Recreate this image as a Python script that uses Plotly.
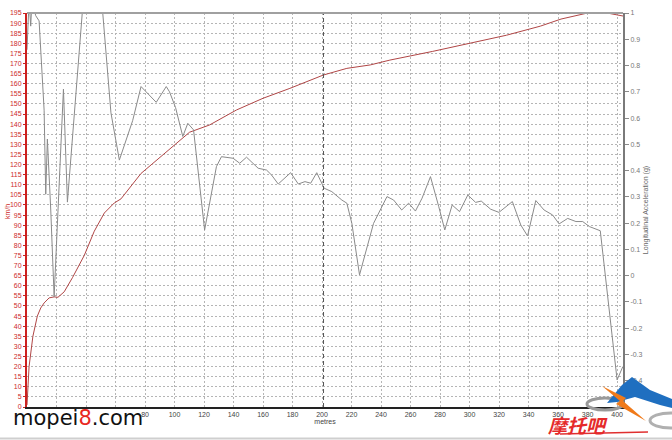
import plotly.graph_objects as go

# ---------------- data ----------------
dist_speed = [0, 1.4, 4, 7, 9.3, 11.6, 15, 18.4, 21, 25.2, 30.8, 38.8, 45.6, 50, 52.4,
              59.2, 63.7, 77.3, 100, 110.2, 123.8, 142, 160, 178.2, 200.9, 216.8, 232.7,
              246, 275, 300, 325, 348, 362, 380, 391, 404]
speed_kmh = [1, 20, 35, 45, 49, 51.5, 54, 54.5, 54.3, 57, 64, 75, 87, 92.5, 96,
             101, 103, 115.6, 129.7, 136, 139.6, 147, 152.8, 157.7, 164.3, 167.6, 169.3,
             171.7, 176, 180, 184, 188.5, 192, 195, 195.3, 193.5]

dist_accel = [0, 1.4, 2.5, 3.4, 5.9, 8.2, 11.6, 12.7, 13.8, 16.1, 18.4, 24.7, 27.4, 37.6,
              44, 51.2, 56.9, 62.6, 71.6, 77.3, 87.6, 94.4, 96.6, 100.7, 105.6, 109, 112.9,
              120.4, 128.4, 131.8, 139.7, 144.2, 148.8, 156.7, 162.4, 165.8, 170.3, 178.7,
              183.9, 188.4, 192.3, 196.4, 201.4, 206.6, 213.4, 216.8, 220.2, 225.4, 234.9,
              244, 248.5, 254, 258.7, 263.3, 267.8, 273.5, 279.1, 283.2, 288.2, 293.2,
              298.8, 304.1, 307.9, 314.3, 319.9, 329, 334.7, 339.3, 344.9, 350.5, 356.3,
              360.7, 366.5, 372.1, 376.7, 381.2, 388.6, 400, 403.9]
accel_g = [0.86, 1.05, 0.95, 1.05, 0.99, 0.97, 0.63, 0.31, 0.52, 0.25, -0.08, 0.71, 0.28, 1.01,
           1.2, 1.01, 0.62, 0.44, 0.59, 0.72, 0.66, 0.72, 0.70, 0.64, 0.53, 0.58, 0.555,
           0.174, 0.415, 0.453, 0.447, 0.428, 0.451, 0.409, 0.402, 0.383, 0.349, 0.392,
           0.349, 0.358, 0.352, 0.392, 0.333, 0.320, 0.288, 0.276, 0.199, 0.003, 0.199,
           0.301, 0.288, 0.25, 0.276, 0.246, 0.295, 0.377, 0.263, 0.174, 0.269, 0.244,
           0.307, 0.279, 0.284, 0.253, 0.241, 0.282, 0.193, 0.151, 0.286, 0.250, 0.231,
           0.197, 0.218, 0.206, 0.206, 0.187, 0.171, -0.397, -0.346]

x_ticks = list(range(0, 401, 20))
# the first labels are hidden under the watermark in the original
x_labels = ["" if v < 80 else str(v) for v in x_ticks]
acc_ticks = [-0.4, -0.3, -0.2, -0.1, 0, 0.1, 0.2, 0.3, 0.4, 0.5, 0.6, 0.7, 0.8, 0.9, 1.0]
acc_labels = ["-0.4", "-0.3", "-0.2", "-0.1", "0", "0.1", "0.2", "0.3", "0.4", "0.5",
              "0.6", "0.7", "0.8", "0.9", "1"]
cursor_m = 201

# ---------------- layout helpers (pixel -> paper) ----------------
W, H = 672, 440
L, R, T, B = 27, 49, 13, 33
PW, PH = W - L - R, H - T - B


def px(x):
    return (x - L) / PW


def py(y):
    return (H - B - y) / PH


def path(points):
    pts = ["%s %f,%f" % ("M" if i == 0 else "L", px(a), py(b)) for i, (a, b) in enumerate(points)]
    return " ".join(pts) + " Z"


FONT = "Liberation Sans, Arial, sans-serif"
GRID = "#b5b5b5"

fig = go.Figure()
fig.add_trace(go.Scatter(x=dist_speed, y=speed_kmh, mode="lines",
                         line=dict(color="#b04646", width=1), yaxis="y",
                         showlegend=False, hoverinfo="skip"))
fig.add_trace(go.Scatter(x=dist_accel, y=accel_g, mode="lines",
                         line=dict(color="#8a8a8a", width=1), yaxis="y2",
                         showlegend=False, hoverinfo="skip"))

shapes = [
    # cursor line
    dict(type="line", xref="x", yref="paper", x0=cursor_m, x1=cursor_m, y0=0, y1=1,
         line=dict(color="#555555", width=1, dash="4px,3px")),
    # top border
    dict(type="line", xref="paper", yref="paper", x0=0, x1=1, y0=1, y1=1,
         line=dict(color="#a0a0a0", width=2)),
    # page bottom line
    dict(type="line", xref="paper", yref="paper", x0=px(0), x1=px(W), y0=py(438.5), y1=py(438.5),
         line=dict(color="#cfcfcf", width=2)),
    # logo: gray rings
    dict(type="circle", xref="paper", yref="paper", x0=px(587), x1=px(623), y0=py(410), y1=py(398),
         line=dict(color="#9a9a9a", width=3)),
    dict(type="circle", xref="paper", yref="paper", x0=px(650), x1=px(692), y0=py(428), y1=py(413),
         line=dict(color="#b0b0b0", width=3)),
    # logo: blue wing
    dict(type="path", xref="paper", yref="paper",
         path=path([(607, 403), (622, 385), (632, 377), (650, 390), (672, 399),
                    (672, 408), (660, 405), (635, 397), (617, 402)]),
         fillcolor="#1f6fc0", line=dict(color="#1f6fc0", width=0)),
    # logo: orange bolt
    dict(type="path", xref="paper", yref="paper",
         path=path([(602, 386), (626, 398), (623, 401), (646, 421), (616, 404), (620, 401)]),
         fillcolor="#f07a1a", line=dict(color="#f07a1a", width=0)),
    # red swoosh under chinese text
    dict(type="line", xref="paper", yref="paper", x0=px(560), x1=px(648), y0=py(434), y1=py(432),
         line=dict(color="#e03030", width=1.5)),
]

annotations = [
    dict(text="km/h", xref="paper", yref="paper", x=px(7), y=py(212), textangle=-90,
         xanchor="center", yanchor="middle", showarrow=False,
         font=dict(size=7, color="#cc2a2a")),
    dict(text='mopei<span style="color:#e8281e">8</span>.com', xref="paper", yref="paper",
         x=px(11), y=py(418), xanchor="left", yanchor="middle", showarrow=False,
         font=dict(family="DejaVu Sans, sans-serif", size=21, color="#111111")),
    dict(text="<b><i>摩托吧</i></b>", xref="paper", yref="paper",
         x=px(578), y=py(424), xanchor="center", yanchor="middle", showarrow=False,
         font=dict(family="Noto Sans CJK SC, sans-serif", size=19, color="#e52a2a")),
]

fig.update_layout(
    width=W, height=H,
    margin=dict(l=L, r=R, t=T, b=B),
    paper_bgcolor="white", plot_bgcolor="white",
    font=dict(family=FONT, size=7, color="#444444"),
    xaxis=dict(range=[0, 404], tickvals=x_ticks, ticktext=x_labels, showgrid=True,
               gridcolor=GRID, griddash="2px,2px", gridwidth=1, zeroline=False,
               showline=True, linecolor="#222222", linewidth=2, ticks="", automargin=False,
               tickfont=dict(size=7, color="#444444"),
               title=dict(text="metres", font=dict(size=7, color="#444444"), standoff=2)),
    yaxis=dict(range=[0, 195], tick0=0, dtick=5, showgrid=True, gridcolor=GRID,
               griddash="2px,2px", gridwidth=1, zeroline=False, showline=True,
               linecolor="#cc2020", linewidth=2, ticks="outside", ticklen=2,
               tickcolor="#cc2020", automargin=False,
               tickfont=dict(size=7, color="#cc2a2a")),
    yaxis2=dict(range=[-0.5, 1.0], overlaying="y", side="right", tickvals=acc_ticks,
                ticktext=acc_labels, showgrid=False, zeroline=False, showline=True,
                linecolor="#7a7a7a", linewidth=2, ticks="outside", ticklen=4,
                tickcolor="#8a8a8a", automargin=False,
                tickfont=dict(size=7, color="#777777"),
                title=dict(text="Longitudinal Acceleration (g)",
                           font=dict(size=7, color="#666666"), standoff=2)),
    shapes=shapes,
    annotations=annotations,
)

fig.write_html("out.html", config={"displayModeBar": False},
               post_script="document.body.style.margin='0px';")
